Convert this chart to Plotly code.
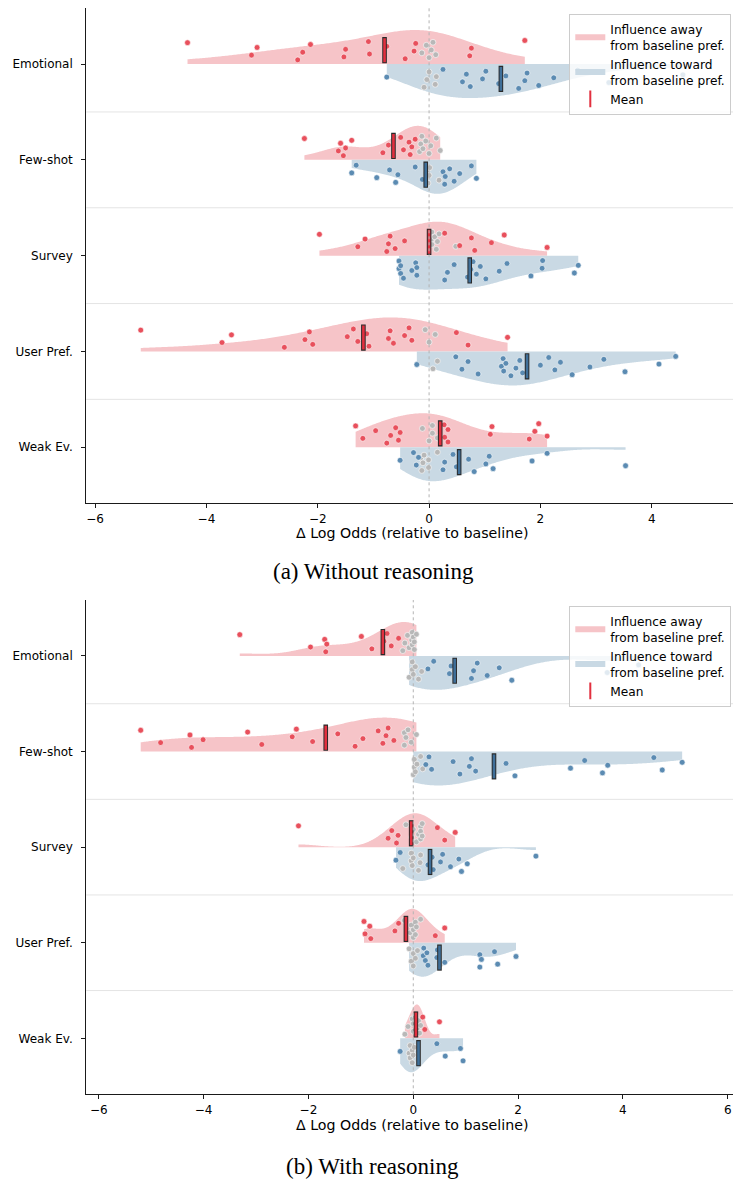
import numpy as np
import plotly.graph_objects as go

categories = ["Emotional", "Few-shot", "Survey", "User Pref.", "Weak Ev."]

# ---------- (a) Without reasoning ----------
a_away_color = [
    [-4.34, -3.19, -3.09, -2.36, -2.27, -2.13, -1.53, -1.50, -1.09, -1.07, -0.76, -0.43, -0.27, -0.24, 0.73, 0.76, 1.72],
    [-2.24, -1.63, -1.59, -1.54, -1.50, -1.39, -0.83, -0.73, -0.51, -0.46, -0.36, -0.34, -0.31, -0.25],
    [-1.97, -1.28, -1.15, -0.76, -0.73, -0.70, -0.61, -0.44, 0.28, 0.55, 0.76, 0.82, 1.12, 1.35, 2.12],
    [-5.18, -3.72, -3.55, -2.60, -2.23, -2.15, -2.09, -1.47, -1.36, -1.28, -1.12, -1.08, -0.73, -0.70, -0.64, -0.44, -0.36, -0.31, 0.49, 0.70, 1.41],
    [-1.32, -1.19, -0.96, -0.76, -0.69, -0.60, -0.55, -0.52, 0.27, 0.28, 0.34, 0.34, 1.10, 1.13, 1.80, 1.90, 1.97, 2.12],
]
a_away_gray = [
    [-0.13, -0.05, 0.0, 0.04, 0.07, 0.12],
    [-0.17, -0.15, -0.13, -0.11, -0.06, 0.0, 0.03, 0.13, 0.20],
    [0.04, 0.05, 0.05, 0.10, 0.13, 0.15, 0.18, 0.48],
    [-0.07, 0.0, 0.11],
    [-0.12, 0.0, 0.06, 0.06, 0.15],
]
a_toward_color = [
    [-0.76, 0.25, 0.60, 0.67, 0.74, 0.96, 1.02, 1.25, 1.38, 1.61, 1.72, 1.76, 1.97, 2.24, 2.67, 3.23, 4.56],
    [-1.39, -1.31, -0.94, -0.71, -0.60, -0.56, -0.25, -0.12, 0.25, 0.28, 0.29, 0.37, 0.45, 0.55, 0.76, 0.85],
    [-0.54, -0.54, -0.51, -0.51, -0.46, -0.31, -0.24, -0.22, -0.22, 0.28, 0.33, 0.45, 0.69, 0.75, 0.79, 0.85,
     0.92, 1.02, 1.26, 1.40, 1.83, 2.03, 2.04, 2.61, 2.68],
    [-0.22, 0.48, 0.59, 0.70, 0.88, 1.30, 1.33, 1.34, 1.38, 1.47, 1.56, 1.63, 1.68, 2.00, 2.15, 2.26, 2.36,
     2.57, 2.89, 3.14, 3.52, 4.13, 4.43],
    [-0.52, -0.28, -0.23, -0.19, 0.25, 0.28, 0.43, 0.49, 0.71, 0.81, 1.02, 1.08, 1.15, 1.85, 2.12, 3.53],
]
a_toward_gray = [
    [-0.09, -0.04, 0.0, 0.11, 0.13],
    [-0.04, -0.02, 0.0, 0.01, 0.18],
    [],
    [0.07, 0.15],
    [-0.15, -0.13, -0.11, -0.09, -0.01, -0.01, 0.15],
]
a_away_mean = [-0.80, -0.64, 0.0, -1.18, 0.20]
a_toward_mean = [1.29, -0.06, 0.73, 1.76, 0.54]

# ---------- (b) With reasoning ----------
b_away_color = [
    [-3.31, -1.96, -1.69, -1.67, -1.65, -0.99, -0.79, -0.56, -0.50, -0.42, -0.28],
    [-5.20, -4.82, -4.26, -4.23, -4.01, -3.16, -2.89, -2.31, -2.23, -1.92, -1.44, -1.11, -0.96, -0.67, -0.58,
     -0.52, -0.48, -0.37],
    [-2.19, -0.48, -0.41, -0.32, -0.29, 0.46, 0.60, 0.80],
    [-0.94, -0.92, -0.83, -0.81, -0.35, -0.28, 0.42, 0.60],
    [0.18, 0.22, 0.50],
]
b_away_gray = [
    [-0.20, -0.16, -0.11, -0.08, -0.03, -0.02, -0.02, 0.0, 0.02, 0.02, 0.06],
    [-0.17, -0.17, -0.14, -0.10, -0.04, 0.06],
    [-0.14, -0.03, 0.0, 0.06, 0.10, 0.14, 0.14, 0.14, 0.17, 0.17],
    [-0.17, -0.06, -0.04, 0.0, 0.0, 0.04, 0.04, 0.06, 0.14],
    [-0.16, -0.10, -0.02, 0.0, 0.0, 0.04, 0.08, 0.10, 0.12, 0.14],
]
b_toward_color = [
    [0.28, 0.39, 0.69, 0.72, 1.11, 1.15, 1.22, 1.41, 1.64, 1.88, 3.70, 4.30],
    [0.24, 0.30, 0.35, 0.76, 0.89, 1.07, 1.11, 1.19, 1.77, 1.94, 3.00, 3.27, 3.61, 3.71, 4.59, 4.75, 5.13],
    [-0.33, -0.25, 0.28, 0.36, 0.38, 0.52, 0.56, 0.71, 0.87, 0.92, 1.03, 2.34],
    [0.19, 0.20, 0.23, 0.26, 0.28, 0.45, 0.46, 0.60, 1.27, 1.27, 1.30, 1.55, 1.61, 1.96],
    [-0.25, 0.45, 0.61, 0.90, 0.95],
]
b_toward_gray = [
    [-0.08, -0.02, -0.02, 0.0, 0.04, 0.10, 0.16],
    [0.0, 0.02, 0.02, 0.04, 0.07, 0.14, 0.18],
    [-0.20, -0.04, -0.04, -0.02, 0.0, 0.10, 0.13, 0.14],
    [-0.08, -0.04, 0.0, 0.0, 0.04, 0.08],
    [-0.08, -0.06, -0.06, -0.02, -0.02, 0.0, 0.02],
]
b_away_mean = [-0.58, -1.67, -0.04, -0.14, 0.05]
b_toward_mean = [0.79, 1.54, 0.32, 0.50, 0.10]

captions = ["(a) Without reasoning", "(b) With reasoning"]
x_title = "Δ Log Odds (relative to baseline)"
legend_names = ["Influence away<br>from baseline pref.", "Influence toward<br>from baseline pref.", "Mean"]

# ---------- styling ----------
W, H = 733, 1181
RED_FILL = "#f6c4c8"
BLUE_FILL = "#c9d9e4"
RED_PT = "#e8505c"
BLUE_PT = "#5b8bb2"
GRAY_PT = "#b8b8b8"
RED_MEAN = "#e2303f"
BLUE_MEAN = "#3f6f99"
OUTLINE = "#2a2a2a"
HALF = 0.355          # max half-violin height (category units)
FONT = "DejaVu Sans"


def kde(vals):
    v = np.asarray(vals, float)
    n = len(v)
    bw = v.std(ddof=1) * n ** (-1 / 5)
    grid = np.linspace(v.min(), v.max(), 240)
    d = np.exp(-0.5 * ((grid[:, None] - v[None, :]) / bw) ** 2).sum(1)
    return grid, d / d.max()


def jitter(n, lo, hi, phase):
    k = np.arange(n)
    return lo + (hi - lo) * ((phase + k * 0.6180339887) % 1.0)


fig = go.Figure()

panels = [
    dict(away_c=a_away_color, away_g=a_away_gray, tow_c=a_toward_color, tow_g=a_toward_gray,
         away_m=a_away_mean, tow_m=a_toward_mean, xa="x", ya="y", leg="legend"),
    dict(away_c=b_away_color, away_g=b_away_gray, tow_c=b_toward_color, tow_g=b_toward_gray,
         away_m=b_away_mean, tow_m=b_toward_mean, xa="x2", ya="y2", leg="legend2"),
]

for p in panels:
    xa, ya, leg = p["xa"], p["ya"], p["leg"]
    # half violins
    for i in range(len(categories)):
        for cvals, gvals, fill, name, sign in [
            (p["away_c"][i], p["away_g"][i], RED_FILL, legend_names[0], -1),
            (p["tow_c"][i], p["tow_g"][i], BLUE_FILL, legend_names[1], 1),
        ]:
            vals = list(cvals) + list(gvals)
            g, d = kde(vals)
            xs = np.concatenate([g, g[::-1]])
            ys = np.concatenate([i + sign * HALF * d, np.full(len(g), float(i))])
            fig.add_trace(go.Scatter(
                x=xs, y=ys, mode="none", fill="toself", fillcolor=fill,
                name=name, showlegend=(i == 0), legend=leg, xaxis=xa, yaxis=ya,
                hoverinfo="skip"))
    # points
    for i in range(len(categories)):
        for cvals, gvals, col, lo, hi, ph in [
            (p["away_c"][i], p["away_g"][i], RED_PT, -0.25, -0.04, 0.13),
            (p["tow_c"][i], p["tow_g"][i], BLUE_PT, 0.05, 0.26, 0.41),
        ]:
            n_c, n_g = len(cvals), len(gvals)
            offs = jitter(n_c + n_g, lo, hi, ph)
            if n_g:
                fig.add_trace(go.Scatter(
                    x=gvals, y=i + offs[n_c:], mode="markers", showlegend=False,
                    marker=dict(size=5.8, color=GRAY_PT, line=dict(color="white", width=0.6)),
                    xaxis=xa, yaxis=ya, hoverinfo="x"))
            fig.add_trace(go.Scatter(
                x=cvals, y=i + offs[:n_c], mode="markers", showlegend=False,
                marker=dict(size=5.8, color=col, line=dict(color="white", width=0.6)),
                xaxis=xa, yaxis=ya, hoverinfo="x"))
    # mean bars
    for means, col, y0, y1 in [(p["away_m"], RED_MEAN, -0.27, -0.02), (p["tow_m"], BLUE_MEAN, 0.03, 0.28)]:
        xo, yo, xi, yi = [], [], [], []
        for i, m in enumerate(means):
            xo += [m, m, None]
            yo += [i + y0 - 0.012, i + y1 + 0.012, None]
            xi += [m, m, None]
            yi += [i + y0, i + y1, None]
        fig.add_trace(go.Scatter(x=xo, y=yo, mode="lines", line=dict(color=OUTLINE, width=4.6),
                                 showlegend=False, xaxis=xa, yaxis=ya, hoverinfo="skip"))
        fig.add_trace(go.Scatter(x=xi, y=yi, mode="lines", line=dict(color=col, width=2.6),
                                 showlegend=False, xaxis=xa, yaxis=ya, hoverinfo="skip"))
    # legend entry for mean
    fig.add_trace(go.Scatter(
        x=[None], y=[None], mode="markers", name=legend_names[2], legend=leg,
        marker=dict(symbol="line-ns-open", size=13, color=RED_MEAN, line=dict(color=RED_MEAN, width=2.5)),
        xaxis=xa, yaxis=ya))

# separators and zero lines
shapes = []
for xa, ya in [("x", "y"), ("x2", "y2")]:
    for i in range(len(categories) - 1):
        shapes.append(dict(type="line", xref=f"{xa} domain", yref=ya, x0=0, x1=1, y0=i + 0.5, y1=i + 0.5,
                           line=dict(color="#e4e4e4", width=1), layer="below"))
    shapes.append(dict(type="line", xref=xa, yref=f"{ya} domain", x0=0, x1=0, y0=0, y1=1,
                       line=dict(color="#b4b4b4", width=1, dash="dot"), layer="above"))

axis_common = dict(showline=True, linecolor="#1a1a1a", linewidth=1, ticks="outside", ticklen=4,
                   tickwidth=1, tickcolor="#1a1a1a", showgrid=False, zeroline=False,
                   tickfont=dict(family=FONT, size=12, color="#000"))

ytop = [1 - 503.3 / H, 1 - 8 / H]
ybot = [1 - 1094.3 / H, 1 - 600 / H]
xdom = [86.2 / W, 1.0]

legend_common = dict(bgcolor="rgba(255,255,255,0.82)", bordercolor="#cccccc", borderwidth=1,
                     font=dict(family=FONT, size=12.2, color="#000"), xanchor="left", yanchor="top",
                     x=569.3 / W, itemsizing="constant")

fig.update_layout(
    width=W, height=H, margin=dict(l=0, r=0, t=0, b=0),
    paper_bgcolor="white", plot_bgcolor="white", showlegend=True,
    xaxis=dict(domain=xdom, anchor="y", range=[-6.16, 5.46], tickvals=[-6, -4, -2, 0, 2, 4], **axis_common),
    yaxis=dict(domain=ytop, anchor="x", range=[4.585, -0.585], tickvals=list(range(5)),
               ticktext=categories, ticklabelstandoff=6, **axis_common),
    xaxis2=dict(domain=xdom, anchor="y2", range=[-6.24, 6.10], tickvals=[-6, -4, -2, 0, 2, 4, 6], **axis_common),
    yaxis2=dict(domain=ybot, anchor="x2", range=[4.585, -0.585], tickvals=list(range(5)),
                ticktext=categories, ticklabelstandoff=6, **axis_common),
    legend=dict(y=1 - 14 / H, **legend_common),
    legend2=dict(y=1 - 606 / H, **legend_common),
    shapes=shapes,
    annotations=[
        dict(text=x_title, xref="paper", yref="paper", x=411.5 / W, y=1 - 533.3 / H, showarrow=False,
             xanchor="center", yanchor="middle", font=dict(family=FONT, size=14.2, color="#000")),
        dict(text=x_title, xref="paper", yref="paper", x=411.5 / W, y=1 - 1125 / H, showarrow=False,
             xanchor="center", yanchor="middle", font=dict(family=FONT, size=14.2, color="#000")),
        dict(text=captions[0], xref="paper", yref="paper", x=373.6 / W, y=1 - 571.7 / H, showarrow=False,
             xanchor="center", yanchor="middle", font=dict(family="Liberation Serif", size=23, color="#000")),
        dict(text=captions[1], xref="paper", yref="paper", x=372.6 / W, y=1 - 1166.7 / H, showarrow=False,
             xanchor="center", yanchor="middle", font=dict(family="Liberation Serif", size=23, color="#000")),
    ],
)

fig.write_html("out.html")
